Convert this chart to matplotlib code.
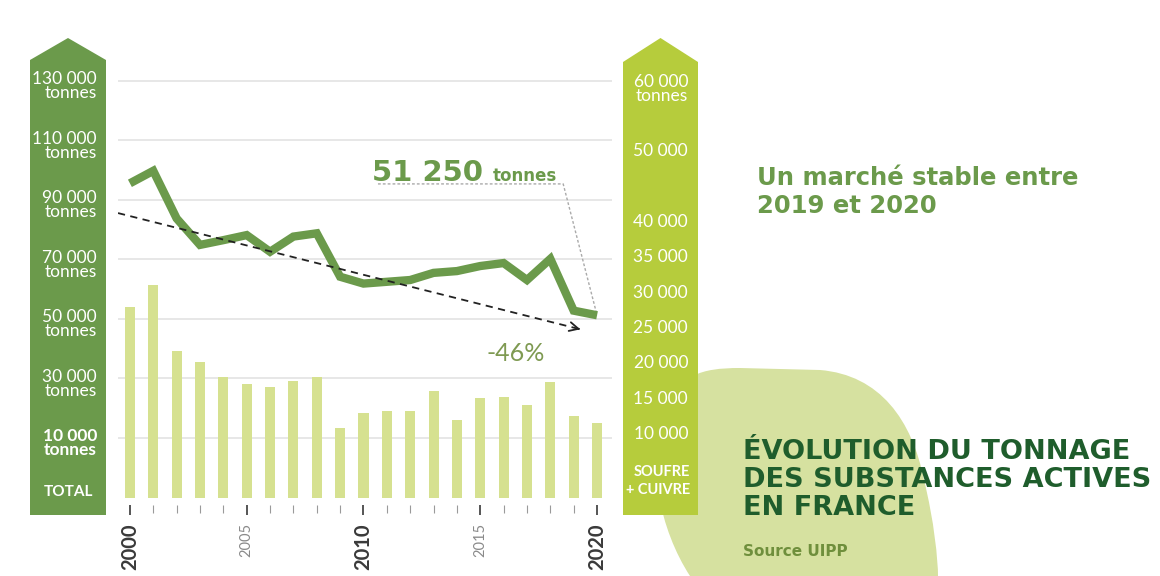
import matplotlib
matplotlib.use("Agg")
import matplotlib.pyplot as plt
from matplotlib.patches import Polygon, PathPatch
from matplotlib.path import Path
from matplotlib.transforms import blended_transform_factory

years = list(range(2000, 2021))
total_t = [95600, 99800, 83800, 74900, 76500, 78200, 72600, 77700, 78800,
           64200, 61900, 62500, 63100, 65500, 66100, 67800, 68800, 63100,
           70200, 52800, 51250]
soufre_cuivre_t = [28000, 31100, 21700, 20200, 18100, 17000, 16700, 17500,
                   18100, 10800, 12900, 13200, 13200, 16100, 12000, 15100,
                   15300, 14100, 17300, 12600, 11500]
left_ticks = [130000, 110000, 90000, 70000, 50000, 30000, 10000]
right_ticks = [60000, 50000, 40000, 35000, 30000, 25000, 20000, 15000, 10000]
trend_label = "-46%"

W, H = 1160, 576
DARK_GREEN = "#6b9a4b"
LIME = "#b6cc3c"
BAR_COL = "#d6e190"
BLOB_COL = "#d6e1a0"
TITLE_COL = "#1f5d2c"
NUM_FONT = "Lato"
HEAD_FONT = "DejaVu Sans"


def fx(x):
    return x / W


def fy(y):
    return 1 - y / H


def fmt(v):
    return "{:,}".format(v).replace(",", " ")


fig = plt.figure(figsize=(W / 100, H / 100), dpi=100)

# background blob
blob = Path([(690, 576), (660, 530), (645, 460), (665, 410),
             (680, 375), (700, 368), (740, 368), (820, 370),
             (880, 375), (912, 420), (924, 480),
             (934, 520), (938, 560), (938, 576), (690, 576)],
            [Path.MOVETO, Path.CURVE4, Path.CURVE4, Path.CURVE4,
             Path.CURVE4, Path.CURVE4, Path.CURVE4, Path.LINETO,
             Path.CURVE4, Path.CURVE4, Path.CURVE4,
             Path.CURVE4, Path.CURVE4, Path.CURVE4, Path.CLOSEPOLY])
blob = Path([(fx(x), fy(y)) for x, y in blob.vertices], blob.codes)
fig.add_artist(PathPatch(blob, facecolor=BLOB_COL, edgecolor="none",
                         transform=fig.transFigure, zorder=-2))

# axis bands (arrow shaped)
for x0, x1, top, shoulder, col in [(30, 106, 38, 60, DARK_GREEN),
                                   (623, 698, 38, 62, LIME)]:
    pts = [(x0, 515), (x0, shoulder), ((x0 + x1) / 2, top), (x1, shoulder), (x1, 515)]
    fig.add_artist(Polygon([(fx(x), fy(y)) for x, y in pts], closed=True,
                           facecolor=col, edgecolor="none",
                           transform=fig.transFigure, zorder=-1))

ax = fig.add_axes([fx(118), fy(498), fx(612) - fx(118), fy(60) - fy(498)])
ax.patch.set_visible(False)
ax2 = ax.twinx()

ax.set_xlim(1999.49, 2020.64)
ax.set_ylim(-10170, 137050)
ax2.set_ylim(950, 62880)

for v in left_ticks:
    ax.axhline(v, color="#e0e0e0", lw=1.1, zorder=0)

ax2.bar(years, soufre_cuivre_t, width=0.43, color=BAR_COL, zorder=2)
ax.plot(years, total_t, color=DARK_GREEN, lw=6, solid_joinstyle="miter",
        solid_capstyle="butt", zorder=3)

# trend arrow
t0, t1 = (1999.49, 85600), (2019.4, 46300)
ax.plot([t0[0], t1[0]], [t0[1], t1[1]], color="#222222", lw=1.3,
        ls=(0, (4, 3)), zorder=4)
ax.annotate("", xy=t1, xytext=(t1[0] - 0.3, t1[1] + 600),
            arrowprops=dict(arrowstyle="->", color="#222222", lw=1.3,
                            mutation_scale=16), zorder=4)
ax.text(2016.5, 38300, trend_label, color="#7f9a52", fontsize=18,
        family=NUM_FONT, ha="center", va="center")

# last value callout
ax.plot([2010.62, 2018.55, years[-1]], [95400, 95400, total_t[-1]],
        color="#aaaaaa", lw=1, ls=(0, (2, 1.5)), zorder=1)
ax.text(2010.35, 96400, fmt(total_t[-1]), color=DARK_GREEN, fontsize=21,
        family=HEAD_FONT, fontweight="bold", ha="left", va="baseline")
ax.text(2015.55, 96400, "tonnes", color=DARK_GREEN, fontsize=12,
        family=HEAD_FONT, fontweight="bold", ha="left", va="baseline")

# x axis
for a in (ax, ax2):
    for s in a.spines.values():
        s.set_visible(False)
ax.spines["bottom"].set_position(("outward", 5))
ax.set_xticks([2000, 2005, 2010, 2015, 2020])
ax.set_xticks(years, minor=True)
ax.set_xticklabels(["2000", "2005", "2010", "2015", "2020"], rotation=90)
ax.tick_params(axis="x", which="major", length=7, width=1.4, color="#555555", pad=6)
ax.tick_params(axis="x", which="minor", length=6, width=0.8, color="#9a9a9a")
for lbl in ax.get_xticklabels():
    lbl.set_family(NUM_FONT)
    if lbl.get_text() in ("2005", "2015"):
        lbl.set_fontsize(10.5)
        lbl.set_color("#8a8a8a")
    else:
        lbl.set_fontsize(14.5)
        lbl.set_fontweight("bold")
        lbl.set_color("#3a3a3a")
ax.set_yticks([])
ax2.set_yticks([])
ax2.tick_params(axis="x", which="both", length=0)

# band labels
tl = blended_transform_factory(fig.transFigure, ax.transData)
for v in left_ticks:
    ax.text(fx(97), v - 1700, fmt(v) + "\ntonnes", transform=tl, color="white",
            fontsize=12.5, family=NUM_FONT, ha="right", va="center", clip_on=False,
            linespacing=0.85, fontweight="bold" if v == 10000 else "normal")
fig.text(fx(68), fy(492), "TOTAL", color="white", fontsize=11,
         family=NUM_FONT, fontweight="bold", ha="center", va="center")

tr = blended_transform_factory(fig.transFigure, ax2.transData)
for v in right_ticks:
    first = v == right_ticks[0]
    txt = fmt(v) + ("\ntonnes" if first else "")
    ax2.text(fx(688), v - (1200 if first else 0), txt, transform=tr, color="white",
             fontsize=12.5, family=NUM_FONT, ha="right", va="center",
             linespacing=0.85, clip_on=False)
fig.text(fx(690), fy(481), "SOUFRE\n+ CUIVRE", color="white", fontsize=10.5,
         family=NUM_FONT, fontweight="bold", ha="right", va="center",
         linespacing=1.4)

# headings
fig.text(fx(757), fy(213), "Un marché stable entre\n2019 et 2020", color=DARK_GREEN,
         fontsize=17.5, family=HEAD_FONT, fontweight="bold", ha="left",
         va="baseline", linespacing=1.2)
fig.text(fx(743), fy(515), "ÉVOLUTION DU TONNAGE\nDES SUBSTANCES ACTIVES\nEN FRANCE",
         color=TITLE_COL, fontsize=19.5, family=HEAD_FONT, fontweight="bold",
         ha="left", va="baseline", linespacing=1.1, zorder=3)
fig.text(fx(743), fy(556), "Source UIPP", color="#6f8f3c", fontsize=11,
         family=HEAD_FONT, fontweight="bold", ha="left", va="baseline")

fig.savefig("out.png", dpi=100)
